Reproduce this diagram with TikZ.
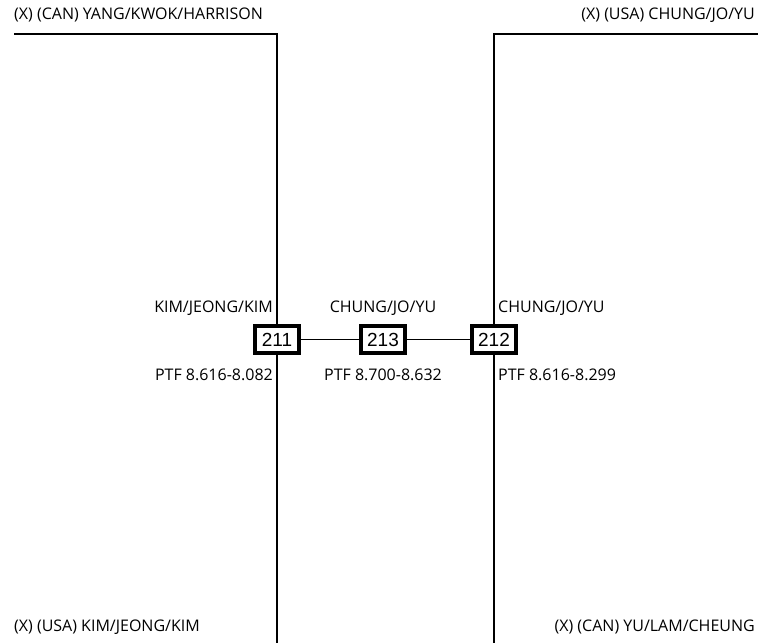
\documentclass[tikz,border=0pt]{standalone}
\usepackage{fontspec}
\setmainfont{Open Sans}
\newfontfamily\boxfont{Liberation Sans}
\usetikzlibrary{positioning}

\tikzset{
  match/.style={draw,line width=3.6pt,fill=white,font=\boxfont\fontsize{19}{19}\selectfont,
    minimum width=44pt,minimum height=27pt,inner sep=0pt},
  team/.style={font=\fontsize{16}{18}\selectfont,inner sep=0pt},
  tree/.style={line width=2pt},
  link/.style={line width=1.8pt}
}

\begin{document}
\begin{tikzpicture}[x=1pt,y=1pt]
\useasboundingbox (0,0) rectangle (758,643);
% bracket ends
\coordinate (tl) at (14,609); \coordinate (tlc) at (277,609); \coordinate (bl) at (277,0);
\coordinate (tr) at (758,609); \coordinate (trc) at (494,609); \coordinate (br) at (494,0);
\draw[tree] (tl)--(tlc)--(bl);
\draw[tree] (tr)--(trc)--(br);
% matches
\node[match] (m211) at (277,303.5) {211};
\node[match] (m213) at (383,303.5) {213};
\node[match] (m212) at (494,303.5) {212};
\draw[link] (m211)--(m213); \draw[link] (m213)--(m212);
% entries
\node[team,anchor=west] (t1) at (14,628) {(X) (CAN) YANG/KWOK/HARRISON};
\node[team,anchor=east] (t2) at (755,628) {(X) (USA) CHUNG/JO/YU};
\node[team,anchor=west] (t3) at (14,16) {(X) (USA) KIM/JEONG/KIM};
\node[team,anchor=east] (t4) at (755,16) {(X) (CAN) YU/LAM/CHEUNG};
% winners and scores
\node[team,anchor=east] (w211) at (273,335) {KIM/JEONG/KIM};
\node[team] (w213) at (383,335) {CHUNG/JO/YU};
\node[team,anchor=west] (w212) at (498,335) {CHUNG/JO/YU};
\node[team,anchor=east] (s211) at (273,268) {PTF 8.616-8.082};
\node[team] (s213) at (383,268) {PTF 8.700-8.632};
\node[team,anchor=west] (s212) at (498,268) {PTF 8.616-8.299};
\end{tikzpicture}
\end{document}
